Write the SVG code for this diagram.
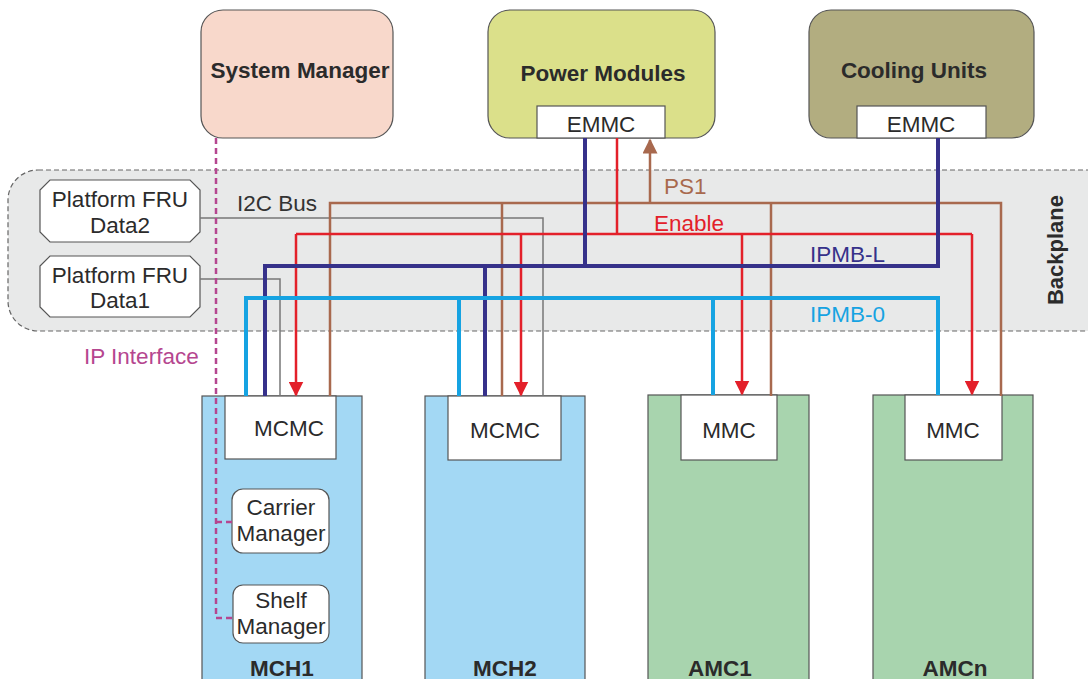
<svg xmlns="http://www.w3.org/2000/svg" width="1088" height="679" viewBox="0 0 1088 679">
<defs>
<style>
text{font-family:"Liberation Sans",Arial,sans-serif;fill:#2b2b2b}
.t{font-size:22.5px;text-anchor:middle}
.b{font-size:22.5px;font-weight:bold;text-anchor:middle}
.l{font-size:22.5px}
.box{stroke:#555;stroke-width:1.2}
.wbox{fill:#fff;stroke:#555;stroke-width:1.2}
.ps{fill:none;stroke:#a8694e;stroke-width:2.5}
.en{fill:none;stroke:#e3202a;stroke-width:2.5}
.il{fill:none;stroke:#36318a;stroke-width:4}
.i0{fill:none;stroke:#16a3e2;stroke-width:4}
.i2c{fill:none;stroke:#777;stroke-width:1.5}
.ip{fill:none;stroke:#b5468f;stroke-width:2.5;stroke-dasharray:6 4}
</style>
<marker id="ar" viewBox="0 0 10 10" refX="9" refY="5" markerWidth="6" markerHeight="6" orient="auto" markerUnits="strokeWidth"><path d="M0,0 L10,5 L0,10 z" fill="#e3202a"/></marker>
<marker id="ab" viewBox="0 0 10 10" refX="9" refY="5" markerWidth="6" markerHeight="6" orient="auto" markerUnits="strokeWidth"><path d="M0,0 L10,5 L0,10 z" fill="#a8694e"/></marker>
</defs>
<rect width="1088" height="679" fill="#fff"/>

<g id="backplane">
<rect x="8" y="170" width="1110" height="161" rx="30" fill="#e8e9e9" stroke="#666" stroke-width="1.2" stroke-dasharray="5 3"/>
<text x="1063" y="250" transform="rotate(-90 1063 250)" font-size="22" font-weight="bold" text-anchor="middle">Backplane</text>
</g>

<g id="system-manager">
<rect x="201" y="10" width="192" height="128" rx="22" fill="#f8d8cb" class="box"/>
<text class="b" x="300" y="78">System Manager</text>
</g>

<g id="power-modules">
<rect x="488" y="10" width="227" height="128" rx="22" fill="#dbe08a" class="box"/>
<text class="b" x="603" y="81">Power Modules</text>
<rect x="537" y="106" width="128" height="32" class="wbox"/>
<text class="t" x="601" y="132">EMMC</text>
</g>

<g id="cooling-units">
<rect x="809" y="10" width="225" height="128" rx="22" fill="#b2ad80" class="box"/>
<text class="b" x="914" y="78">Cooling Units</text>
<rect x="857" y="106" width="129" height="32" class="wbox"/>
<text class="t" x="921" y="132">EMMC</text>
</g>

<g id="fru-data2">
<path d="M50,180 H190 L200,190 V232 L190,242 H50 L40,232 V190 Z" class="wbox"/>
<text class="t" x="120" y="207">Platform FRU</text>
<text class="t" x="120" y="233">Data2</text>
</g>
<g id="fru-data1">
<path d="M50,256 H190 L200,266 V307 L190,317 H50 L40,307 V266 Z" class="wbox"/>
<text class="t" x="120" y="283">Platform FRU</text>
<text class="t" x="120" y="308">Data1</text>
</g>

<g id="mch1">
<rect x="202" y="396" width="160" height="300" fill="#a3d8f4" class="box"/>
<rect x="225" y="396" width="111" height="63" class="wbox"/>
<text class="t" x="289" y="436">MCMC</text>
<rect x="232" y="489" width="97" height="64" rx="11" class="wbox"/>
<text class="t" x="281" y="515">Carrier</text>
<text class="t" x="281" y="541">Manager</text>
<rect x="233" y="585" width="96" height="58" rx="10" class="wbox"/>
<text class="t" x="281" y="608">Shelf</text>
<text class="t" x="281" y="634">Manager</text>
<text class="b" x="282" y="676">MCH1</text>
</g>

<g id="mch2">
<rect x="425" y="396" width="160" height="300" fill="#a3d8f4" class="box"/>
<rect x="448" y="396" width="113" height="64" class="wbox"/>
<text class="t" x="505" y="438">MCMC</text>
<text class="b" x="505" y="676">MCH2</text>
</g>

<g id="amc1">
<rect x="648" y="395" width="161" height="300" fill="#a8d4ae" class="box"/>
<rect x="681" y="395" width="96" height="65" class="wbox"/>
<text class="t" x="729" y="438">MMC</text>
<text class="b" x="720" y="676">AMC1</text>
</g>

<g id="amcn">
<rect x="873" y="395" width="160" height="300" fill="#a8d4ae" class="box"/>
<rect x="905" y="395" width="97" height="65" class="wbox"/>
<text class="t" x="953" y="438">MMC</text>
<text class="b" x="955" y="676">AMCn</text>
</g>

<g id="connectors">
<path class="i2c" d="M200,218 H543 V396"/>
<path class="i2c" d="M200,279 H280 V396"/>
<path class="ps" d="M330,396 V203 H1001 V396"/>
<path class="ps" d="M502,203 V396"/>
<path class="ps" d="M771,203 V396"/>
<path class="ps" d="M650,203 V140" marker-end="url(#ab)"/>
<path class="en" d="M617,138 V234"/>
<path class="en" d="M296,234 H972"/>
<path class="en" d="M296,234 V395" marker-end="url(#ar)"/>
<path class="en" d="M521,234 V395" marker-end="url(#ar)"/>
<path class="en" d="M742,234 V394" marker-end="url(#ar)"/>
<path class="en" d="M972,234 V394" marker-end="url(#ar)"/>
<path class="il" d="M265,396 V266 H938 V138"/>
<path class="il" d="M585,138 V266"/>
<path class="il" d="M485,266 V396"/>
<path class="i0" d="M246,396 V298 H938 V395"/>
<path class="i0" d="M459,298 V396"/>
<path class="i0" d="M713,298 V395"/>
<path class="ip" d="M216,138 V618 H233"/>
<path class="ip" d="M216,522 H232"/>
<text class="l" x="664" y="194" style="fill:#a8694e">PS1</text>
<text class="l" x="654" y="231" style="fill:#e3202a">Enable</text>
<text class="l" x="810" y="262" style="fill:#36318a">IPMB-L</text>
<text class="l" x="810" y="322" style="fill:#16a3e2">IPMB-0</text>
<text class="l" x="237" y="211" style="fill:#333">I2C Bus</text>
<text class="l" x="84" y="364" style="fill:#b5468f">IP Interface</text>
</g>
</svg>
